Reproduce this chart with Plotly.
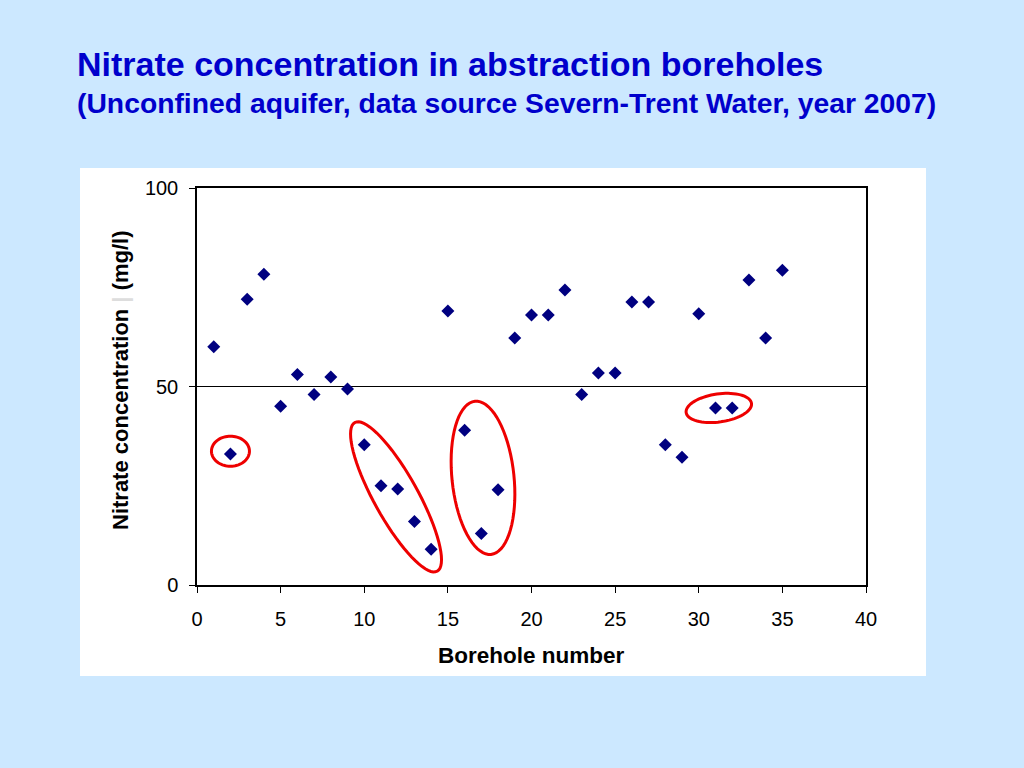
import numpy as np
import plotly.graph_objects as go

# ---- data ----
borehole = list(range(1, 36))
nitrate = [60, 33, 72, 78.3, 45, 53, 48, 52.4, 49.4, 35.3,
           25, 24.2, 16, 9, 69, 39, 13, 24, 62.2, 68,
           68, 74.3, 48, 53.4, 53.4, 71.3, 71.3, 35.3, 32.2, 68.3,
           44.6, 44.6, 76.8, 62.2, 79.3]
x_ticks = [0, 5, 10, 15, 20, 25, 30, 35, 40]
y_ticks = [0, 50, 100]

# highlighted groups: (centre x, centre y, semi-axis x in px, semi-axis y in px, rotation deg)
ellipses = [
    (2.0, 33.7, 19, 15, 0),
    (11.9, 22.2, 85, 22, 61),
    (17.1, 27.0, 31, 77, -6),
    (31.2, 44.6, 33, 14, -8),
]

W, H = 1024, 768
L, R, T, B = 197, 158, 188, 183
x_rng = (0, 40)
y_rng = (0, 100)
px_x = (W - L - R) / (x_rng[1] - x_rng[0])
px_y = (H - T - B) / (y_rng[1] - y_rng[0])


def ellipse_path(cx, cy, a, b, ang, n=72):
    t = np.linspace(0, 2 * np.pi, n, endpoint=False)
    th = np.deg2rad(ang)
    dx = a * np.cos(t) * np.cos(th) - b * np.sin(t) * np.sin(th)
    dy = a * np.cos(t) * np.sin(th) + b * np.sin(t) * np.cos(th)
    xs = cx + dx / px_x
    ys = cy - dy / px_y
    pts = [f"{x:.4f},{y:.4f}" for x, y in zip(xs, ys)]
    return "M " + " L ".join(pts) + " Z"


fig = go.Figure()
fig.add_trace(go.Scatter(
    x=borehole, y=nitrate, mode="markers",
    marker=dict(symbol="diamond", size=10, color="#000080"),
    showlegend=False, hoverinfo="x+y",
))

shapes = [
    dict(type="rect", xref="paper", yref="paper", layer="below",
         x0=(80 - L) / (W - L - R), x1=(926 - L) / (W - L - R),
         y0=(H - B - 676) / (H - T - B), y1=(H - B - 168) / (H - T - B),
         fillcolor="white", line=dict(width=0)),
]
for cx, cy, a, b, ang in ellipses:
    shapes.append(dict(type="path", xref="x", yref="y",
                       path=ellipse_path(cx, cy, a, b, ang),
                       line=dict(color="#EE0000", width=3)))

font = "Liberation Sans, Arial, sans-serif"
annotations = [
    dict(text="<b>Nitrate concentration in abstraction boreholes</b>",
         xref="paper", yref="paper", x=(75 - L) / (W - L - R), y=(H - B - 64) / (H - T - B),
         xanchor="left", yanchor="middle", showarrow=False,
         font=dict(family=font, size=34, color="#0000CC")),
    dict(text="<b>(Unconfined aquifer, data source Severn-Trent Water, year 2007)</b>",
         xref="paper", yref="paper", x=(75 - L) / (W - L - R), y=(H - B - 103) / (H - T - B),
         xanchor="left", yanchor="middle", showarrow=False,
         font=dict(family=font, size=28.3, color="#0000CC")),
    dict(text="<b>Borehole number</b>",
         xref="paper", yref="paper", x=(531 - L) / (W - L - R), y=(H - B - 655) / (H - T - B),
         xanchor="center", yanchor="middle", showarrow=False,
         font=dict(family=font, size=22.5, color="black")),
    dict(text="<b>Nitrate concentration <span style='color:#DDDDDD'>|</span> (mg/l)</b>",
         xref="paper", yref="paper", x=(120 - L) / (W - L - R), y=(H - B - 380) / (H - T - B),
         xanchor="center", yanchor="middle", showarrow=False, textangle=-90,
         font=dict(family=font, size=22, color="black")),
]

fig.update_layout(
    width=W, height=H,
    margin=dict(l=L, r=R, t=T, b=B),
    paper_bgcolor="#CCE8FF",
    plot_bgcolor="white",
    shapes=shapes,
    annotations=annotations,
    xaxis=dict(range=list(x_rng), tickvals=x_ticks, ticks="outside", ticklen=6,
               tickcolor="black", showline=True, linecolor="black", linewidth=1.5,
               mirror=True, showgrid=False, zeroline=False, ticklabelstandoff=9,
               tickfont=dict(family=font, size=20, color="black")),
    yaxis=dict(range=list(y_rng), tickvals=y_ticks, ticks="outside", ticklen=6,
               tickcolor="black", showline=True, linecolor="black", linewidth=1.5,
               mirror=True, showgrid=True, gridcolor="black", gridwidth=1,
               zeroline=False, ticklabelstandoff=7,
               tickfont=dict(family=font, size=20, color="black")),
)

fig.write_html(
    "out.html",
    config={"displayModeBar": False},
    post_script="document.body.style.margin='0';document.body.style.overflow='hidden';"
                "document.body.style.background='#CCE8FF';",
)
